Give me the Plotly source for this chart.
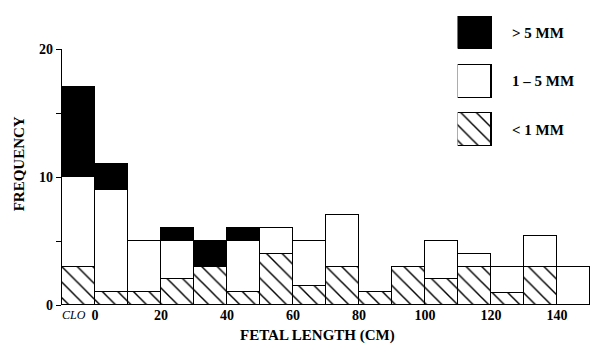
import plotly.graph_objects as go

# Fetal length bins (cm); the first bin holds the CLO group
bin_left = [-10, 0, 10, 20, 30, 40, 50, 60, 70, 80, 90, 100, 110, 120, 130, 140]
bin_width = 10

# Frequency per bin, split by size class
series_names = ["< 1 MM", "1 \u2013 5 MM", "> 5 MM"]
under_1mm = [3, 1, 1, 2, 3, 1, 4, 1.5, 3, 1, 3, 2, 3, 0.9, 3, 0]
from_1_to_5mm = [7, 8, 4, 3, 0, 4, 2, 3.5, 4, 0, 0, 3, 1, 2.1, 2.4, 3]
over_5mm = [7, 2, 0, 1, 2, 1, 0, 0, 0, 0, 0, 0, 0, 0, 0, 0]

# Axis ticks
x_tick_vals = [0, 20, 40, 60, 80, 100, 120, 140]
x_tick_text = ["0", "20", "40", "60", "80", "100", "120", "140"]
clo_label = "CLO"
y_tick_vals = [0, 5, 10, 15, 20]
y_tick_text = ["0", "", "10", "", "20"]

x_title = "FETAL LENGTH (CM)"
y_title = "FREQUENCY"

SERIF = "Liberation Serif"
centers = [b + bin_width / 2 for b in bin_left]
outline = dict(color="black", width=1.2)

styles = [
    dict(color="white", line=outline,
         pattern=dict(shape="\\", fgcolor="black", bgcolor="white", size=11,
                      solidity=0.13, fgopacity=1)),
    dict(color="white", line=outline),
    dict(color="black", line=outline),
]

fig = go.Figure()
for name, vals, st in zip(series_names, [under_1mm, from_1_to_5mm, over_5mm], styles):
    fig.add_trace(go.Bar(x=centers, y=vals, width=bin_width, name=name,
                         marker=st, showlegend=False, xaxis="x", yaxis="y"))

# Key swatches drawn on a small auxiliary axis pair (top row = "> 5 MM")
key_rows = [0, 1, 2]
key_len = [1, 1, 1]
for name, row, st in zip(series_names, key_rows, styles):
    fig.add_trace(go.Bar(x=[key_len[row]], y=[row], orientation="h", width=0.68,
                         marker=st, showlegend=False, xaxis="x2", yaxis="y2",
                         hoverinfo="skip"))
    fig.add_annotation(text=name, xref="paper", yref="y2", x=0.8485, y=row,
                       xanchor="left", yanchor="middle", showarrow=False,
                       font=dict(family=SERIF, size=15, color="black", weight="bold"))

fig.update_layout(
    width=598, height=352,
    margin=dict(l=62, r=8, t=0, b=47),
    paper_bgcolor="white", plot_bgcolor="white",
    barmode="stack", bargap=0,
    xaxis=dict(range=[-10, 150], showgrid=False, zeroline=False, showline=False,
               tickvals=x_tick_vals, ticktext=x_tick_text, ticks="",
               tickfont=dict(family=SERIF, size=14, color="black", weight="bold")),
    yaxis=dict(range=[0, 20], domain=[0, 262 / 305], showgrid=False, zeroline=False,
               showline=True, linecolor="black", linewidth=1.2,
               tickvals=y_tick_vals, ticktext=y_tick_text, ticks="outside",
               ticklen=5, tickwidth=1.2, tickcolor="black",
               tickfont=dict(family=SERIF, size=14, color="black", weight="bold")),
    xaxis2=dict(domain=[0.7494, 0.8144], range=[0, 1], anchor="y2",
                visible=False, fixedrange=True),
    yaxis2=dict(domain=[(305 - 142.7) / 305, (305 - 9.3) / 305],
                range=[-0.342, 2.342], anchor="x2", visible=False, fixedrange=True),
)

fig.add_annotation(text="<i>" + clo_label + "</i>", xref="x", yref="paper",
                   x=-6.5, y=-10.5 / 305, xanchor="center", yanchor="middle",
                   showarrow=False,
                   font=dict(family=SERIF, size=12, color="black"))
fig.add_annotation(text=x_title, xref="paper", yref="paper", x=0.483, y=-31 / 305,
                   xanchor="center", yanchor="middle", showarrow=False,
                   font=dict(family=SERIF, size=15, color="black", weight="bold"))
fig.add_annotation(text=y_title, xref="paper", yref="paper", x=(18.5 - 62) / 528,
                   y=(305 - 160.5) / 305, textangle=-90, xanchor="center",
                   yanchor="middle", showarrow=False,
                   font=dict(family=SERIF, size=15, color="black", weight="bold"))

fig.write_html("out.html")
